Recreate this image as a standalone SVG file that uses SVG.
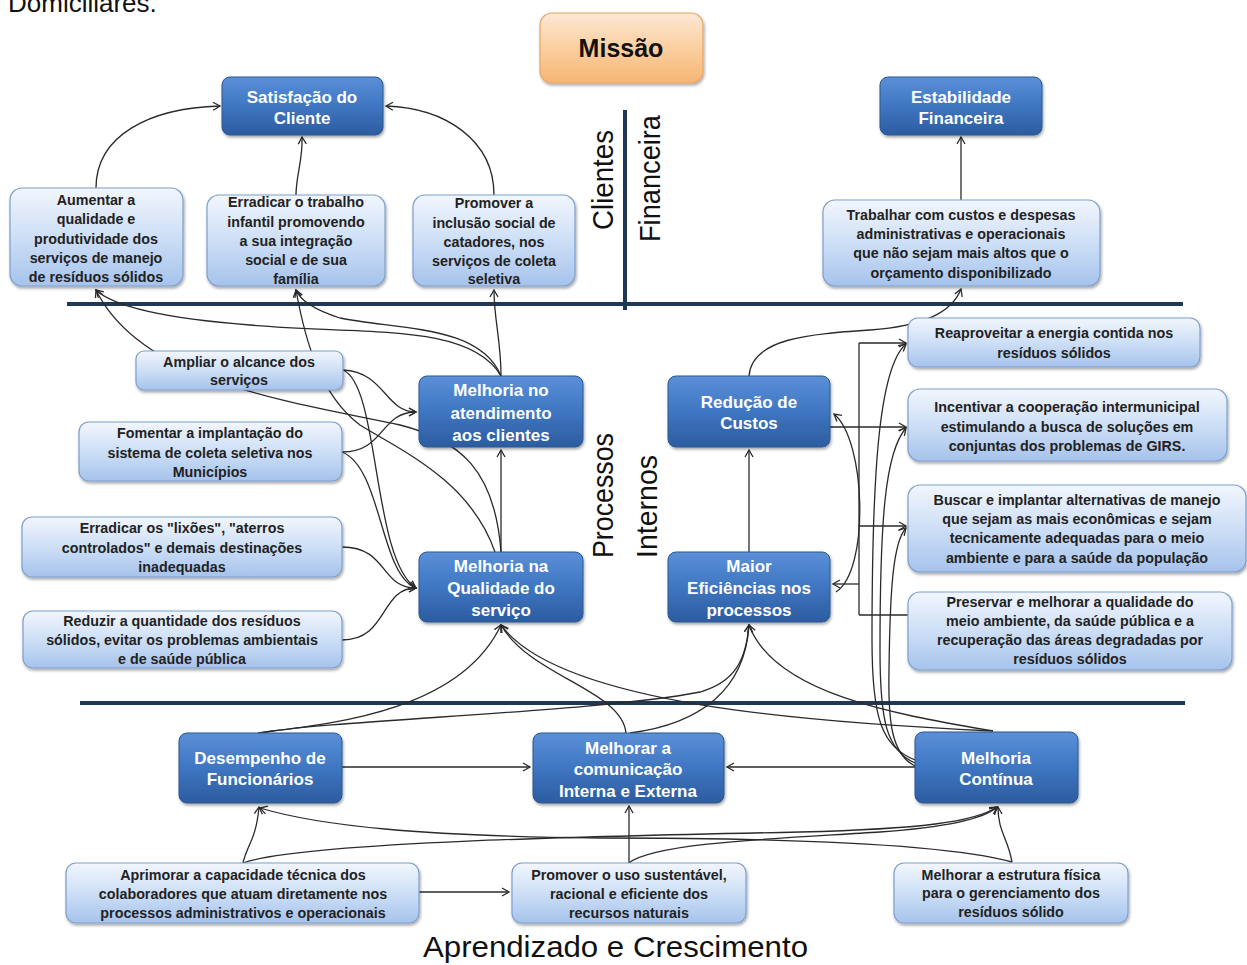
<svg xmlns="http://www.w3.org/2000/svg" width="1247" height="965" viewBox="0 0 1247 965">
  <style>
    .dark { fill: url(#blueFill); stroke: #2a5890; stroke-width: 1; filter: url(#shadow); }
    .light { fill: url(#lightFill); stroke: #7d9fcc; stroke-width: 1.2; filter: url(#shadow); }
    .tw { font-family: "Liberation Sans", Arial, sans-serif; font-weight: bold; font-size: 17px; fill: #ffffff; text-anchor: middle; }
    .tk { font-family: "Liberation Sans", Arial, sans-serif; font-weight: bold; font-size: 14.3px; fill: #222222; text-anchor: middle; }
    .sec { font-family: "Liberation Sans", Arial, sans-serif; font-size: 29px; fill: #111111; }
    .rule { stroke: #1f3855; stroke-width: 4; fill: none; }
    .conn path, .conn line { fill: none; stroke: #2a2a2a; stroke-width: 1.3; }
    .arr { marker-end: url(#arrow); }
  </style>
  <defs>
    <linearGradient id="blueFill" x1="0" y1="0" x2="0" y2="1">
      <stop offset="0" stop-color="#5b90d8"/>
      <stop offset="0.5" stop-color="#3f76c2"/>
      <stop offset="1" stop-color="#2c5c9f"/>
    </linearGradient>
    <linearGradient id="lightFill" x1="0" y1="0" x2="0" y2="1">
      <stop offset="0" stop-color="#f2f6fd"/>
      <stop offset="0.5" stop-color="#cddff6"/>
      <stop offset="1" stop-color="#a6c3ec"/>
    </linearGradient>
    <linearGradient id="orangeFill" x1="0" y1="0" x2="0" y2="1">
      <stop offset="0" stop-color="#fde8d6"/>
      <stop offset="0.5" stop-color="#fbcf9f"/>
      <stop offset="1" stop-color="#f6b574"/>
    </linearGradient>
    <filter id="shadow" x="-10%" y="-10%" width="120%" height="130%">
      <feDropShadow dx="1" dy="2" stdDeviation="1.5" flood-color="#000000" flood-opacity="0.35"/>
    </filter>
    <marker id="arrow" markerUnits="userSpaceOnUse" markerWidth="12" markerHeight="12" refX="8" refY="5" orient="auto">
      <path d="M1,1 L8,5 L1,9" fill="none" stroke="#2a2a2a" stroke-width="1.3"/>
    </marker>
  </defs>

  <rect width="1247" height="965" fill="#ffffff"/>

  <!-- caption fragment at the top edge -->
  <text x="8" y="12" font-family="Liberation Sans, Arial, sans-serif" font-size="26" fill="#111">Domiciliares.</text>

  <!-- section dividers -->
  <g id="dividers">
    <line class="rule" x1="625" y1="110" x2="625" y2="310"/>
    <line class="rule" x1="67" y1="304" x2="1183" y2="304"/>
    <line class="rule" x1="80" y1="703" x2="1185" y2="703"/>
  </g>

  <!-- perspective labels -->
  <g id="labels">
    <text class="sec" transform="translate(613,230) rotate(-90)" textLength="100" lengthAdjust="spacingAndGlyphs">Clientes</text>
    <text class="sec" transform="translate(660,242) rotate(-90)" textLength="127" lengthAdjust="spacingAndGlyphs">Financeira</text>
    <text class="sec" transform="translate(613,558) rotate(-90)" textLength="125" lengthAdjust="spacingAndGlyphs">Processos</text>
    <text class="sec" transform="translate(657,558) rotate(-90)" textLength="103" lengthAdjust="spacingAndGlyphs">Internos</text>
    <text class="sec" x="423" y="957" font-size="25" textLength="385" lengthAdjust="spacingAndGlyphs">Aprendizado e Crescimento</text>
  </g>

  <!-- connectors -->
  <g id="connectors" class="conn">
    <!-- customers -->
    <path class="arr" d="M96,188 C96,135 150,108 220,106"/>
    <path class="arr" d="M296,195 C296,175 303,160 302,137"/>
    <path class="arr" d="M494,195 C494,140 445,108 386,106"/>
    <!-- financial -->
    <path class="arr" d="M961,200 L961,137"/>
    <path class="arr" d="M749,376 C752,338 810,334 870,330 C925,326 952,312 961,289"/>

    <!-- internal processes: left column -->
    <path class="arr" d="M501,376 C470,322 360,335 250,325 C160,318 112,305 96,290"/>
    <path class="arr" d="M501,376 C480,325 400,330 340,318 C315,310 300,300 296,290"/>
    <path class="arr" d="M501,376 C501,340 494,320 494,290"/>
    <path class="arr" d="M501,552 C495,470 460,440 400,425 C280,400 140,380 96,290"/>
    <path class="arr" d="M495,552 C470,480 400,450 360,425 C320,395 305,340 296,290"/>
    <path class="arr" d="M501,552 L501,450"/>
    <path class="arr" d="M343,370 C385,372 385,412 416,412"/>
    <path class="arr" d="M342,452 C385,452 380,412 416,412"/>
    <path class="arr" d="M343,370 C380,385 372,560 416,588"/>
    <path class="arr" d="M342,452 C382,468 380,575 416,588"/>
    <path class="arr" d="M342,547 C388,547 380,588 416,588"/>
    <path class="arr" d="M342,640 C388,640 380,588 416,588"/>

    <!-- internal processes: right column -->
    <path class="arr" d="M749,552 L749,450"/>
    <path class="arr" d="M830,427 L906,427"/>
    <line x1="859" y1="343" x2="859" y2="615"/>
    <path class="arr" d="M859,343 L906,343"/>
    <path class="arr" d="M859,526 L906,526"/>
    <line x1="859" y1="615" x2="908" y2="615"/>
    <path class="arr" d="M859,584 L833,584"/>
    <path class="arr" d="M836,592 C870,570 866,440 834,414"/>
    <path class="arr" d="M915,760 C882,746 872,720 872,640 C872,480 878,368 906,344"/>
    <path class="arr" d="M915,763 C886,750 880,720 880,650 C880,520 885,452 906,428"/>
    <path class="arr" d="M915,766 C891,754 888,720 889,670 C890,590 893,542 906,528"/>

    <!-- learning and growth -> processes -->
    <path class="arr" d="M258,733 C330,724 460,712 501,625"/>
    <path class="arr" d="M260,733 C330,720 600,712 700,692 C735,682 746,660 749,625"/>
    <path class="arr" d="M626,733 C622,690 530,676 501,625"/>
    <path class="arr" d="M630,733 C700,724 745,690 749,625"/>
    <path class="arr" d="M993,731 C900,715 775,695 749,625"/>
    <path class="arr" d="M993,731 C820,723 560,706 501,625"/>

    <!-- learning and growth row -->
    <path class="arr" d="M342,767 L530,767"/>
    <path class="arr" d="M915,767 L727,767"/>
    <path class="arr" d="M419,892 L509,892"/>
    <path class="arr" d="M629,863 L629,806"/>
    <path class="arr" d="M243,863 C247,845 256,840 259,807"/>
    <path class="arr" d="M243,863 C300,842 600,836 800,832 C920,829 975,822 997,807"/>
    <path class="arr" d="M1012,862 C1008,838 998,832 998,807"/>
    <path class="arr" d="M1012,862 C950,845 800,838 600,838 C420,836 320,826 260,808"/>
    <path class="arr" d="M629,863 C655,842 790,838 880,832 C950,827 985,818 997,807"/>
  </g>

  <!-- mission -->
  <g id="missao">
    <rect x="540" y="13" width="163" height="70" rx="12" fill="url(#orangeFill)" stroke="#e8a667" stroke-width="1.2" filter="url(#shadow)"/>
    <text x="621" y="57" font-family="Liberation Sans, Arial, sans-serif" font-weight="bold" font-size="25" fill="#111" text-anchor="middle">Missão</text>
  </g>

  <!-- customer perspective -->
  <g id="satisfacao">
    <rect class="dark" x="222" y="77" width="161" height="58" rx="8"/>
    <text class="tw" x="302" y="103">Satisfação do</text>
    <text class="tw" x="302" y="124">Cliente</text>
  </g>
  <g id="aumentar">
    <rect class="light" x="10" y="188" width="173" height="98" rx="12"/>
    <text class="tk" x="96" y="205">Aumentar a</text>
    <text class="tk" x="96" y="224">qualidade e</text>
    <text class="tk" x="96" y="244">produtividade dos</text>
    <text class="tk" x="96" y="263">serviços de manejo</text>
    <text class="tk" x="96" y="282">de resíduos sólidos</text>
  </g>
  <g id="erradicar-trabalho">
    <rect class="light" x="207" y="195" width="178" height="91" rx="12"/>
    <text class="tk" x="296" y="207">Erradicar o trabalho</text>
    <text class="tk" x="296" y="227">infantil promovendo</text>
    <text class="tk" x="296" y="246">a sua integração</text>
    <text class="tk" x="296" y="265">social e de sua</text>
    <text class="tk" x="296" y="284">família</text>
  </g>
  <g id="promover-inclusao">
    <rect class="light" x="413" y="195" width="162" height="91" rx="12"/>
    <text class="tk" x="494" y="208">Promover a</text>
    <text class="tk" x="494" y="228">inclusão social de</text>
    <text class="tk" x="494" y="247">catadores, nos</text>
    <text class="tk" x="494" y="266">serviços de coleta</text>
    <text class="tk" x="494" y="284">seletiva</text>
  </g>

  <!-- financial perspective -->
  <g id="estabilidade">
    <rect class="dark" x="880" y="77" width="162" height="58" rx="8"/>
    <text class="tw" x="961" y="103">Estabilidade</text>
    <text class="tw" x="961" y="124">Financeira</text>
  </g>
  <g id="trabalhar-custos">
    <rect class="light" x="823" y="200" width="277" height="86" rx="12"/>
    <text class="tk" x="961" y="220">Trabalhar com custos e despesas</text>
    <text class="tk" x="961" y="239">administrativas e operacionais</text>
    <text class="tk" x="961" y="258">que não sejam mais altos que o</text>
    <text class="tk" x="961" y="278">orçamento disponibilizado</text>
  </g>

  <!-- internal processes -->
  <g id="ampliar">
    <rect class="light" x="136" y="351" width="207" height="39" rx="8"/>
    <text class="tk" x="239" y="367">Ampliar o alcance dos</text>
    <text class="tk" x="239" y="385">serviços</text>
  </g>
  <g id="fomentar">
    <rect class="light" x="79" y="422" width="263" height="59" rx="10"/>
    <text class="tk" x="210" y="438">Fomentar a implantação do</text>
    <text class="tk" x="210" y="458">sistema de coleta seletiva nos</text>
    <text class="tk" x="210" y="477">Municípios</text>
  </g>
  <g id="erradicar-lixoes">
    <rect class="light" x="22" y="517" width="320" height="60" rx="10"/>
    <text class="tk" x="182" y="533">Erradicar os "lixões", "aterros</text>
    <text class="tk" x="182" y="553">controlados" e demais destinações</text>
    <text class="tk" x="182" y="572">inadequadas</text>
  </g>
  <g id="reduzir">
    <rect class="light" x="23" y="611" width="319" height="57" rx="10"/>
    <text class="tk" x="182" y="626">Reduzir a quantidade dos resíduos</text>
    <text class="tk" x="182" y="645">sólidos, evitar os problemas ambientais</text>
    <text class="tk" x="182" y="664">e de saúde pública</text>
  </g>
  <g id="melhoria-atendimento">
    <rect class="dark" x="419" y="376" width="164" height="71" rx="8"/>
    <text class="tw" x="501" y="396">Melhoria no</text>
    <text class="tw" x="501" y="419">atendimento</text>
    <text class="tw" x="501" y="441">aos clientes</text>
  </g>
  <g id="melhoria-qualidade">
    <rect class="dark" x="419" y="552" width="164" height="70" rx="8"/>
    <text class="tw" x="501" y="572">Melhoria na</text>
    <text class="tw" x="501" y="594">Qualidade do</text>
    <text class="tw" x="501" y="616">serviço</text>
  </g>
  <g id="reducao-custos">
    <rect class="dark" x="668" y="376" width="162" height="71" rx="8"/>
    <text class="tw" x="749" y="408">Redução de</text>
    <text class="tw" x="749" y="429">Custos</text>
  </g>
  <g id="maior-eficiencia">
    <rect class="dark" x="668" y="552" width="162" height="70" rx="8"/>
    <text class="tw" x="749" y="572">Maior</text>
    <text class="tw" x="749" y="594">Eficiências nos</text>
    <text class="tw" x="749" y="616">processos</text>
  </g>
  <g id="reaproveitar">
    <rect class="light" x="908" y="318" width="292" height="49" rx="10"/>
    <text class="tk" x="1054" y="338">Reaproveitar a energia contida nos</text>
    <text class="tk" x="1054" y="358">resíduos sólidos</text>
  </g>
  <g id="incentivar">
    <rect class="light" x="908" y="389" width="319" height="72" rx="12"/>
    <text class="tk" x="1067" y="412">Incentivar a cooperação intermunicipal</text>
    <text class="tk" x="1067" y="432">estimulando a busca de soluções  em</text>
    <text class="tk" x="1067" y="451">conjuntas dos problemas de GIRS.</text>
  </g>
  <g id="buscar">
    <rect class="light" x="908" y="485" width="338" height="87" rx="12"/>
    <text class="tk" x="1077" y="505">Buscar e implantar alternativas de manejo</text>
    <text class="tk" x="1077" y="524">que sejam as mais econômicas e sejam</text>
    <text class="tk" x="1077" y="543">tecnicamente adequadas para o meio</text>
    <text class="tk" x="1077" y="563">ambiente e para a saúde da população</text>
  </g>
  <g id="preservar">
    <rect class="light" x="908" y="592" width="324" height="78" rx="12"/>
    <text class="tk" x="1070" y="607">Preservar e melhorar a qualidade do</text>
    <text class="tk" x="1070" y="626">meio ambiente, da saúde pública e a</text>
    <text class="tk" x="1070" y="645">recuperação das áreas degradadas por</text>
    <text class="tk" x="1070" y="664">resíduos sólidos</text>
  </g>

  <!-- learning and growth -->
  <g id="desempenho">
    <rect class="dark" x="179" y="733" width="163" height="70" rx="8"/>
    <text class="tw" x="260" y="764">Desempenho de</text>
    <text class="tw" x="260" y="785">Funcionários</text>
  </g>
  <g id="comunicacao">
    <rect class="dark" x="533" y="733" width="191" height="70" rx="8"/>
    <text class="tw" x="628" y="754">Melhorar a</text>
    <text class="tw" x="628" y="775">comunicação</text>
    <text class="tw" x="628" y="797">Interna e Externa</text>
  </g>
  <g id="melhoria-continua">
    <rect class="dark" x="915" y="732" width="163" height="71" rx="8"/>
    <text class="tw" x="996" y="764">Melhoria</text>
    <text class="tw" x="996" y="785">Contínua</text>
  </g>
  <g id="aprimorar">
    <rect class="light" x="66" y="863" width="353" height="60" rx="10"/>
    <text class="tk" x="243" y="880">Aprimorar a capacidade técnica dos</text>
    <text class="tk" x="243" y="899">colaboradores que atuam diretamente nos</text>
    <text class="tk" x="243" y="918">processos administrativos e operacionais</text>
  </g>
  <g id="promover-uso">
    <rect class="light" x="512" y="863" width="234" height="60" rx="10"/>
    <text class="tk" x="629" y="880">Promover o uso sustentável,</text>
    <text class="tk" x="629" y="899">racional e eficiente dos</text>
    <text class="tk" x="629" y="918">recursos naturais</text>
  </g>
  <g id="estrutura-fisica">
    <rect class="light" x="894" y="863" width="234" height="60" rx="10"/>
    <text class="tk" x="1011" y="880">Melhorar a estrutura física</text>
    <text class="tk" x="1011" y="898">para o gerenciamento dos</text>
    <text class="tk" x="1011" y="917">resíduos sólido</text>
  </g>
</svg>
